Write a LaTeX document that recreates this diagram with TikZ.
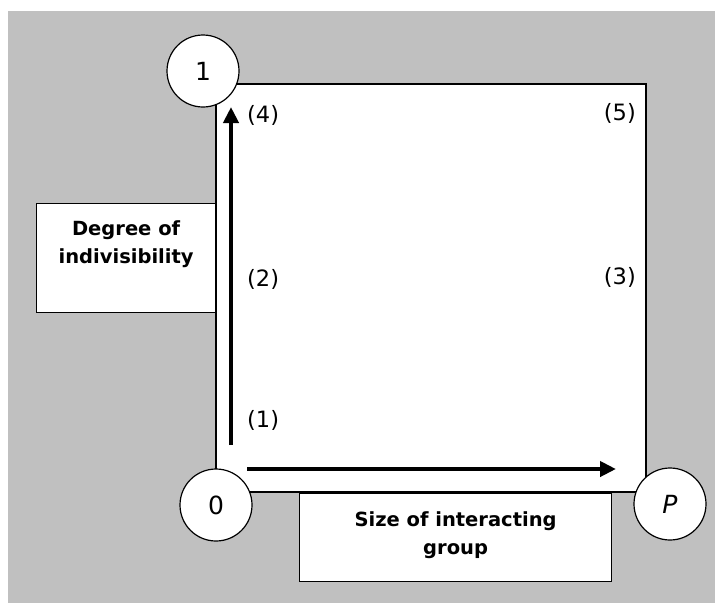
\documentclass[tikz,border=0pt]{standalone}
\usepackage{fontspec}
\setmainfont{DejaVu Sans}
\usepackage{tikz}
\usetikzlibrary{arrows.meta,positioning}
\definecolor{backgray}{RGB}{192,192,192}
\tikzset{
  corner/.style = {circle, draw, fill=white, line width=1.2pt,
                   minimum size=72pt, inner sep=0pt,
                   font=\fontsize{25}{29}\selectfont},
  namebox/.style = {rectangle, draw, fill=white, line width=1.2pt,
                    inner sep=0pt, anchor=north west},
  boxtext/.style = {inner sep=0pt, align=center, anchor=north,
                    font=\bfseries\fontsize{19.5}{28}\selectfont},
  case/.style = {inner sep=0pt, font=\fontsize{22.5}{26}\selectfont},
  axis/.style = {line width=4.5pt, -{Triangle[length=16pt,width=15pt]}}
}
\begin{document}
\begin{tikzpicture}[x=1pt,y=-1pt]
	\useasboundingbox (0,0) rectangle (715,603);
	\fill[backgray] (8,11) rectangle (715,603);
	% the square
	\draw[fill=white, line width=1.2pt] (216,84) rectangle (646,492);
	% axis boxes
	\node[namebox, minimum width=179pt, minimum height=109pt] (degbox) at (36,203) {};
	\node[boxtext, below=17pt of degbox.north] (degtext) {Degree of\\indivisibility};
	\node[namebox, minimum width=312pt, minimum height=88pt] (sizebox) at (299,493) {};
	\node[boxtext, below=18pt of sizebox.north] (sizetext) {Size of interacting\\group};
	% corners
	\node[corner] (one) at (203,71) {1};
	\node[corner] (zero) at (216,505) {0};
	\node[corner] (pee) at (670,504) {\itshape P};
	% axes
	\coordinate (vbot) at (231,445);
	\coordinate (vtop) at (231,107);
	\coordinate (hleft) at (247,469);
	\coordinate (hright) at (616,469);
	\draw[axis] (vbot) -- (vtop);
	\draw[axis] (hleft) -- (hright);
	% cases
	\node[case, anchor=west] (c4) at (247,115) {(4)};
	\node[case, anchor=east] (c5) at (636,113) {(5)};
	\node[case, anchor=west] (c2) at (247,279) {(2)};
	\node[case, anchor=east] (c3) at (636,277) {(3)};
	\node[case, anchor=west] (c1) at (247,420) {(1)};
\end{tikzpicture}
\end{document}
